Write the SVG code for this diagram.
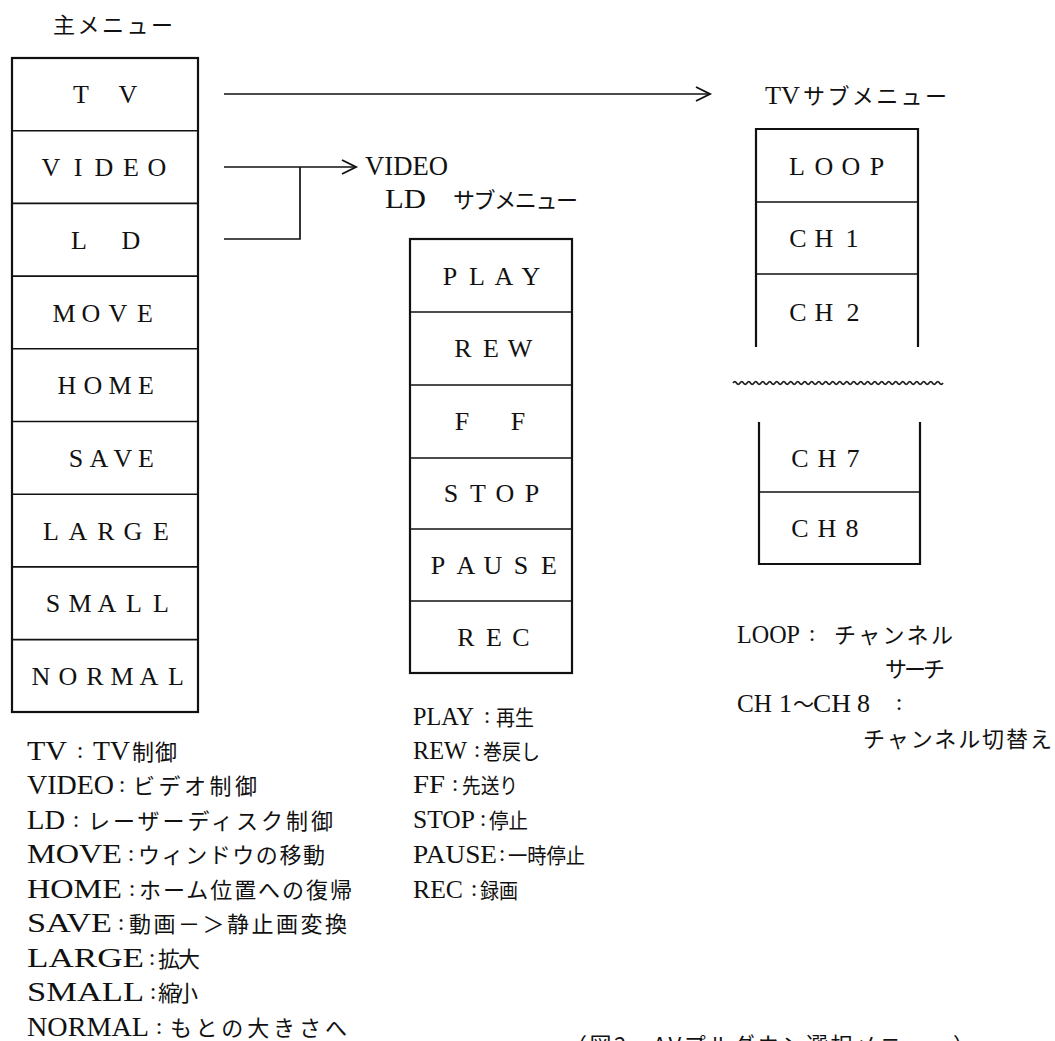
<svg xmlns="http://www.w3.org/2000/svg" width="1055" height="1041" viewBox="0 0 1055 1041">
<style>
text{font-family:"Liberation Serif","Noto Sans CJK JP",serif;fill:#111}
.cell{font-size:26px;text-anchor:middle}
.lat{font-size:27px}
.latm{font-size:26px}
.col{font-size:24px;text-anchor:middle}
.jp{font-size:22px;font-family:"Noto Sans CJK JP",sans-serif}
.jps{font-size:21px;font-family:"Noto Sans CJK JP",sans-serif}
.box{fill:#fff;stroke:#111;stroke-width:2.2}
.div{stroke:#111;stroke-width:1.6}
.con{fill:none;stroke:#111;stroke-width:1.7}
</style>
<defs>
<marker id="arr" markerUnits="userSpaceOnUse" markerWidth="18" markerHeight="18" refX="15" refY="8" orient="auto">
<path d="M1,1 L15,8 L1,15" fill="none" stroke="#111" stroke-width="1.9"/>
</marker>
</defs>
<rect width="1055" height="1041" fill="#fff"/>

<text class="jp" x="53" y="33" textLength="120" lengthAdjust="spacing">主メニュー</text>

<g id="main-menu">
<rect class="box" x="12" y="58" width="186" height="654"/>
<line class="div" x1="12" y1="130.7" x2="198" y2="130.7"/>
<line class="div" x1="12" y1="203.4" x2="198" y2="203.4"/>
<line class="div" x1="12" y1="276.1" x2="198" y2="276.1"/>
<line class="div" x1="12" y1="348.8" x2="198" y2="348.8"/>
<line class="div" x1="12" y1="421.5" x2="198" y2="421.5"/>
<line class="div" x1="12" y1="494.2" x2="198" y2="494.2"/>
<line class="div" x1="12" y1="566.9" x2="198" y2="566.9"/>
<line class="div" x1="12" y1="639.6" x2="198" y2="639.6"/>
<text class="cell" x="81 128" y="103">TV</text>
<text class="cell" x="51 78 104 131 157" y="176">VIDEO</text>
<text class="cell" x="79 131" y="249">LD</text>
<text class="cell" x="64 91 118 145" y="322">MOVE</text>
<text class="cell" x="67 93 120 146" y="394">HOME</text>
<text class="cell" x="76 99 123 146" y="467">SAVE</text>
<text class="cell" x="51 78 106 133 161" y="540">LARGE</text>
<text class="cell" x="53 80 107 134 161" y="612">SMALL</text>
<text class="cell" x="41 68 95 122 149 176" y="685">NORMAL</text>
</g>

<g id="connectors">
<path class="con" d="M224,94 H710" marker-end="url(#arr)"/>
<path class="con" d="M224,167 H356" marker-end="url(#arr)"/>
<path class="con" d="M224,239 H300 V167"/>
</g>

<g id="ld-title">
<text class="lat" x="365" y="175" textLength="83" lengthAdjust="spacingAndGlyphs">VIDEO</text>
<text class="lat" x="385" y="208" textLength="41" lengthAdjust="spacingAndGlyphs">LD</text>
<text class="jp" x="453" y="208" textLength="125" lengthAdjust="spacing">サブメニュー</text>
</g>

<g id="ld-menu">
<rect class="box" x="410" y="239" width="162" height="434"/>
<line class="div" x1="410" y1="312" x2="572" y2="312"/>
<line class="div" x1="410" y1="385" x2="572" y2="385"/>
<line class="div" x1="410" y1="458" x2="572" y2="458"/>
<line class="div" x1="410" y1="529" x2="572" y2="529"/>
<line class="div" x1="410" y1="601" x2="572" y2="601"/>
<text class="cell" x="450 477 504 531" y="285">PLAY</text>
<text class="cell" x="463 491 520" y="357">REW</text>
<text class="cell" x="462 518" y="430">FF</text>
<text class="cell" x="451 478 505 532" y="502">STOP</text>
<text class="cell" x="438 466 493 521 549" y="574">PAUSE</text>
<text class="cell" x="466 494 521" y="646">REC</text>
</g>

<g id="tv-title">
<text class="latm" x="765" y="104" textLength="35" lengthAdjust="spacingAndGlyphs">TV</text>
<text class="jp" x="803" y="104" textLength="144" lengthAdjust="spacing">サブメニュー</text>
</g>

<g id="tv-menu">
<path class="box" d="M756,347 V129 H918 V347" fill="none"/>
<line class="div" x1="756" y1="202" x2="918" y2="202"/>
<line class="div" x1="756" y1="274" x2="918" y2="274"/>
<path d="M733,383 q1.75,-2.6 3.5,0 t3.5,0 t3.5,0 t3.5,0 t3.5,0 t3.5,0 t3.5,0 t3.5,0 t3.5,0 t3.5,0 t3.5,0 t3.5,0 t3.5,0 t3.5,0 t3.5,0 t3.5,0 t3.5,0 t3.5,0 t3.5,0 t3.5,0 t3.5,0 t3.5,0 t3.5,0 t3.5,0 t3.5,0 t3.5,0 t3.5,0 t3.5,0 t3.5,0 t3.5,0 t3.5,0 t3.5,0 t3.5,0 t3.5,0 t3.5,0 t3.5,0 t3.5,0 t3.5,0 t3.5,0 t3.5,0 t3.5,0 t3.5,0 t3.5,0 t3.5,0 t3.5,0 t3.5,0 t3.5,0 t3.5,0 t3.5,0 t3.5,0 t3.5,0 t3.5,0 t3.5,0 t3.5,0 t3.5,0 t3.5,0 t3.5,0 t3.5,0 t3.5,0 t3.5,0" fill="none" stroke="#222" stroke-width="1.7"/>
<path class="box" d="M759,422 V564 H920 V422"/>
<line class="div" x1="759" y1="492" x2="920" y2="492"/>
<text class="cell" x="797 824 851 877" y="175">LOOP</text>
<text class="cell" x="798 824 852" y="247">CH1</text>
<text class="cell" x="798 824 853" y="321">CH2</text>
<text class="cell" x="800 827 853" y="467">CH7</text>
<text class="cell" x="800 827 852" y="537">CH8</text>
</g>

<g id="main-legend">
<text class="lat" x="27" y="760" textLength="40" lengthAdjust="spacingAndGlyphs">TV</text>
<text class="col" x="80" y="758">:</text>
<text class="lat" x="93" y="760" textLength="37" lengthAdjust="spacingAndGlyphs">TV</text>
<text class="jp" x="132" y="760" textLength="45" lengthAdjust="spacing">制御</text>

<text class="lat" x="27" y="794" textLength="87" lengthAdjust="spacingAndGlyphs">VIDEO</text>
<text class="col" x="122" y="792">:</text>
<text class="jp" x="133" y="794" textLength="124" lengthAdjust="spacing">ビデオ制御</text>

<text class="lat" x="27" y="829" textLength="38" lengthAdjust="spacingAndGlyphs">LD</text>
<text class="col" x="76" y="827">:</text>
<text class="jp" x="88" y="829" textLength="245" lengthAdjust="spacing">レーザーディスク制御</text>

<text class="lat" x="27" y="863" textLength="95" lengthAdjust="spacingAndGlyphs">MOVE</text>
<text class="col" x="131" y="861">:</text>
<text class="jp" x="138" y="863" textLength="187" lengthAdjust="spacing">ウィンドウの移動</text>

<text class="lat" x="27" y="898" textLength="95" lengthAdjust="spacingAndGlyphs">HOME</text>
<text class="col" x="132" y="896">:</text>
<text class="jp" x="139" y="898" textLength="213" lengthAdjust="spacing">ホーム位置への復帰</text>

<text class="lat" x="27" y="932" textLength="85" lengthAdjust="spacingAndGlyphs">SAVE</text>
<text class="col" x="121" y="930">:</text>
<text class="jp" x="129" y="932" textLength="218" lengthAdjust="spacing">動画－＞静止画変換</text>

<text class="lat" x="27" y="967" textLength="117" lengthAdjust="spacingAndGlyphs">LARGE</text>
<text class="col" x="152" y="965">:</text>
<text class="jp" x="158" y="967" textLength="42" lengthAdjust="spacing">拡大</text>

<text class="lat" x="27" y="1001" textLength="117" lengthAdjust="spacingAndGlyphs">SMALL</text>
<text class="col" x="153" y="999">:</text>
<text class="jp" x="158" y="1001" textLength="40" lengthAdjust="spacing">縮小</text>

<text class="lat" x="27" y="1036" textLength="122" lengthAdjust="spacingAndGlyphs">NORMAL</text>
<text class="col" x="159" y="1034">:</text>
<text class="jp" x="170" y="1036" textLength="177" lengthAdjust="spacing">もとの大きさへ</text>
</g>

<g id="ld-legend">
<text class="latm" x="413" y="725" textLength="61" lengthAdjust="spacingAndGlyphs">PLAY</text>
<text class="col" x="487" y="723">:</text>
<text class="jps" x="496" y="725" textLength="38" lengthAdjust="spacingAndGlyphs">再生</text>

<text class="latm" x="413" y="759" textLength="54" lengthAdjust="spacingAndGlyphs">REW</text>
<text class="col" x="477" y="757">:</text>
<text class="jps" x="483" y="759" textLength="57" lengthAdjust="spacingAndGlyphs">巻戻し</text>

<text class="latm" x="413" y="793" textLength="32" lengthAdjust="spacingAndGlyphs">FF</text>
<text class="col" x="455" y="791">:</text>
<text class="jps" x="462" y="793" textLength="56" lengthAdjust="spacingAndGlyphs">先送り</text>

<text class="latm" x="413" y="828" textLength="62" lengthAdjust="spacingAndGlyphs">STOP</text>
<text class="col" x="483" y="826">:</text>
<text class="jps" x="489" y="828" textLength="39" lengthAdjust="spacingAndGlyphs">停止</text>

<text class="latm" x="413" y="863" textLength="84" lengthAdjust="spacingAndGlyphs">PAUSE</text>
<text class="col" x="502" y="861">:</text>
<text class="jps" x="508" y="863" textLength="77" lengthAdjust="spacingAndGlyphs">一時停止</text>

<text class="latm" x="413" y="898" textLength="50" lengthAdjust="spacingAndGlyphs">REC</text>
<text class="col" x="474" y="896">:</text>
<text class="jps" x="480" y="898" textLength="38" lengthAdjust="spacingAndGlyphs">録画</text>
</g>

<g id="tv-legend">
<text class="latm" x="737" y="643" textLength="63" lengthAdjust="spacingAndGlyphs">LOOP</text>
<text class="col" x="812" y="641">:</text>
<text class="jp" x="834" y="643" textLength="119" lengthAdjust="spacing">チャンネル</text>
<text class="jp" x="885" y="677" textLength="60" lengthAdjust="spacing">サーチ</text>
<text class="latm" x="737" y="712" textLength="35" lengthAdjust="spacingAndGlyphs">CH</text>
<text class="latm" x="779" y="712">1</text>
<text class="jp" x="793" y="712" textLength="21" lengthAdjust="spacingAndGlyphs">～</text>
<text class="latm" x="813" y="712" textLength="38" lengthAdjust="spacingAndGlyphs">CH</text>
<text class="latm" x="857" y="712">8</text>
<text class="col" x="899" y="710">:</text>
<text class="jp" x="863" y="747" textLength="189" lengthAdjust="spacing">チャンネル切替え</text>
</g>

<text class="jp" x="565" y="1053" textLength="410" lengthAdjust="spacing">（図2　AVプルダウン選択メニュー）</text>
</svg>
